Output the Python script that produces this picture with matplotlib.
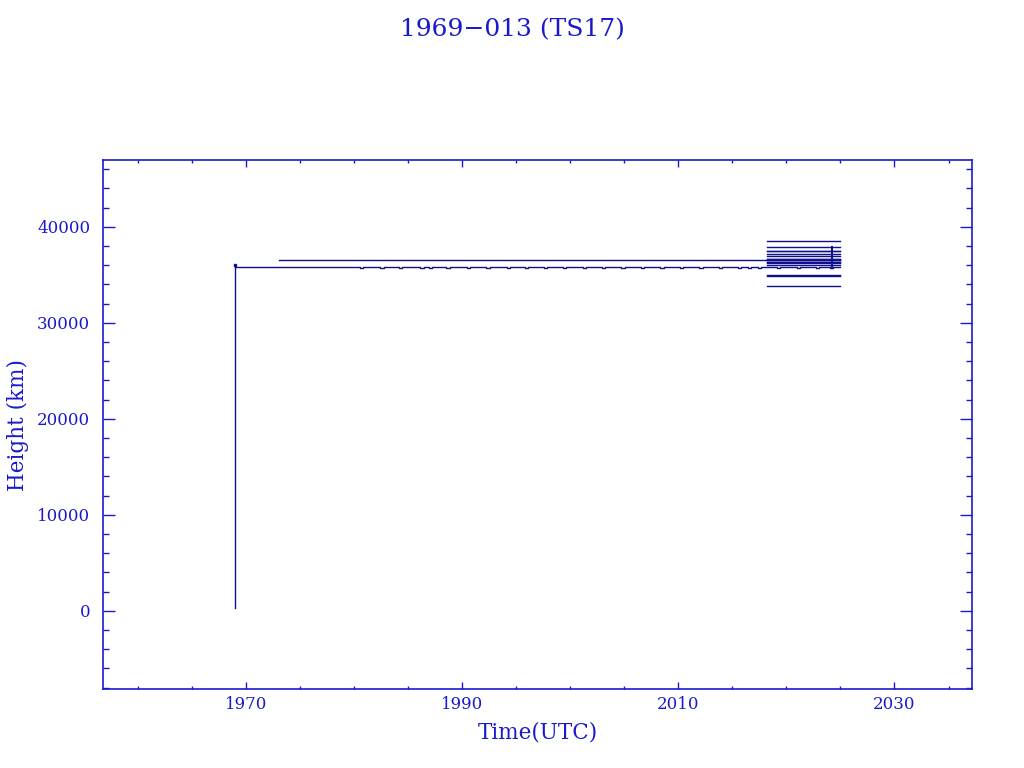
import matplotlib
matplotlib.use("Agg")
import matplotlib.pyplot as plt
from matplotlib.ticker import MultipleLocator

# ---- data ----
title = "1969\u2212013 (TS17)"
launch_year = 1969.01
launch_heights = [300, 36030]

geo_start, geo_end = 1969.05, 2024.95
geo_height = 35790
notch_depth = 90
notch_years = [1980.7, 1982.6, 1984.3, 1986.3, 1987.1, 1988.7, 1990.6, 1992.4,
               1994.3, 1996.0, 1997.7, 1999.5, 2001.3, 2003.1, 2004.9, 2006.7,
               2008.5, 2010.3, 2012.1, 2013.9, 2015.7, 2016.6, 2017.5, 2019.3,
               2021.1, 2022.9, 2024.2]

upper_start, upper_end = 1973.1, 2024.95
upper_height = 36520

cluster_start, cluster_end = 2018.2, 2024.95
cluster_heights = [38580, 37940, 37520, 37460, 37180, 36970, 36700, 36650,
                   36600, 36350, 36300, 36250, 36030, 34960, 34900, 33880]

vert_year = 2024.2
vert_heights = [37940, 35700]

xlim = (1956.77, 2037.2)
ylim = (-8170, 46970)

# ---- styling ----
axis_col = "#1a1acc"
data_col = "#10108c"
font = ["DejaVu Serif"]

fig = plt.figure(figsize=(10.24, 7.68), dpi=100)
ax = fig.add_axes([0.1003, 0.1025, 0.8492, 0.6892])

# launch vertical
ax.plot([launch_year, launch_year], launch_heights, color=data_col, lw=1.0)
ax.plot([launch_year], [launch_heights[1]], marker="s", ms=2.0, color=data_col)

# main geo line with notches
xs, ys = [geo_start], [geo_height]
hw = 0.15
for n in notch_years:
    xs += [n - hw, n - hw, n + hw, n + hw]
    ys += [geo_height, geo_height - notch_depth, geo_height - notch_depth, geo_height]
xs.append(geo_end)
ys.append(geo_height)
ax.plot(xs, ys, color=data_col, lw=1.0)

# upper long line
ax.plot([upper_start, upper_end], [upper_height, upper_height], color=data_col, lw=1.0)

# recent cluster
for h in cluster_heights:
    ax.plot([cluster_start, cluster_end], [h, h], color=data_col, lw=1.0)
ax.plot([vert_year, vert_year], vert_heights, color=data_col, lw=1.5)

ax.set_xlim(*xlim)
ax.set_ylim(*ylim)
ax.xaxis.set_major_locator(MultipleLocator(20, offset=10))
ax.xaxis.set_minor_locator(MultipleLocator(5))
ax.yaxis.set_major_locator(MultipleLocator(10000))
ax.yaxis.set_minor_locator(MultipleLocator(2000))

for s in ax.spines.values():
    s.set_color(axis_col)
    s.set_linewidth(1.2)
ax.tick_params(axis="both", which="both", direction="in", colors=axis_col,
               top=True, right=True, width=1.0)
ax.tick_params(axis="x", which="major", length=5, pad=5)
ax.tick_params(axis="x", which="minor", length=2.5)
ax.tick_params(axis="y", which="major", length=8.5, pad=9)
ax.tick_params(axis="y", which="minor", length=4.3)
for lab in ax.get_xticklabels() + ax.get_yticklabels():
    lab.set_family(font)
    lab.set_fontsize(12)
    lab.set_color(axis_col)

ax.set_xlabel("Time(UTC)", family=font, fontsize=15.5, color=axis_col, labelpad=6)
ax.set_ylabel("Height (km)", family=font, fontsize=15.5, color=axis_col, labelpad=6)
fig.text(0.5, 0.961, title, ha="center", va="center", family=font,
         fontsize=18, color=axis_col)

fig.savefig("out.png", dpi=100)
